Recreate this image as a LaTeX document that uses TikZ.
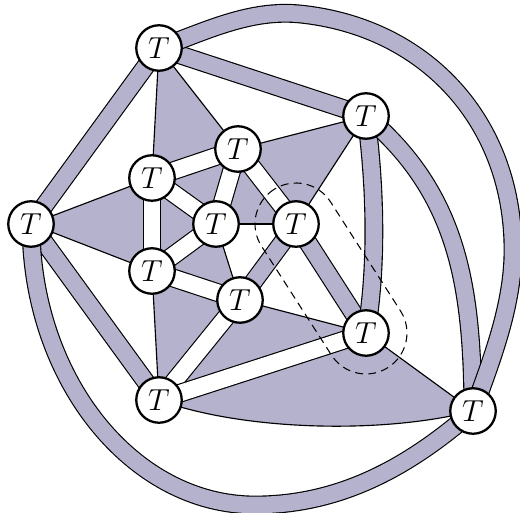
\documentclass[tikz,border=0pt]{standalone}
\usetikzlibrary{calc}
\pgfdeclarelayer{bg}
\pgfsetlayers{bg,main}
\definecolor{pfill}{RGB}{180,178,204}
\begin{document}
\begin{tikzpicture}[x=0.02cm,y=-0.02cm,
  tnode/.style={circle,draw,line width=1.3pt,fill=white,minimum size=0.91cm,inner sep=0pt,font=\fontsize{18.5}{21}\selectfont},
  pstrip/.style={draw=black,line width=0.65pt,double=pfill,double distance=9.4pt},
  wstrip/.style={draw=black,line width=0.65pt,double=white,double distance=9.4pt},
  face/.style={fill=pfill},
  edgeline/.style={draw=black,line width=0.65pt},
  loopline/.style={draw=black,line width=0.6pt,dash pattern=on 4.5pt off 3pt}]
\useasboundingbox (0,0) rectangle (520,513);
\node[tnode] (A) at (159,48) {$T$};
\node[tnode] (B) at (366,116) {$T$};
\node[tnode] (C) at (238,149) {$T$};
\node[tnode] (D) at (152,178) {$T$};
\node[tnode] (E) at (31,224) {$T$};
\node[tnode] (F) at (216,224) {$T$};
\node[tnode] (G) at (296,224) {$T$};
\node[tnode] (H) at (152,271) {$T$};
\node[tnode] (I) at (240,300) {$T$};
\node[tnode] (J) at (366,333) {$T$};
\node[tnode] (K) at (159,400) {$T$};
\node[tnode] (L) at (473,411) {$T$};
\begin{pgfonlayer}{bg}
% purple faces
\fill[face] (A.center) -- (D.center) -- (C.center) -- cycle;
\fill[face] (C.center) -- (B.center) -- (G.center) -- cycle;
\fill[face] (C.center) -- (D.center) -- (F.center) -- cycle;
\fill[face] (D.center) -- (E.center) -- (H.center) -- cycle;
\fill[face] (D.center) -- (F.center) -- (H.center) -- cycle;
\fill[face] (F.center) -- (C.center) -- (G.center) -- cycle;
\fill[face] (F.center) -- (H.center) -- (I.center) -- cycle;
\fill[face] (H.center) -- (I.center) -- (K.center) -- cycle;
\fill[face] (I.center) -- (J.center) -- (K.center) -- cycle;
\fill[face] (K.center) .. controls (240,430) and (380,435) .. (L.center) -- (J.center) -- cycle;
% white strips
\draw[wstrip] (D.center) -- (C.center);
\draw[wstrip] (D.center) -- (H.center);
\draw[wstrip] (D.center) -- (F.center);
\draw[wstrip] (C.center) -- (F.center);
\draw[wstrip] (F.center) -- (H.center);
\draw[wstrip] (C.center) -- (G.center);
\draw[wstrip] (H.center) -- (I.center);
\draw[wstrip] (I.center) -- (K.center);
\draw[wstrip] (J.center) -- (K.center);
% purple strips
\draw[pstrip] (A.center) -- (E.center);
\draw[pstrip] (A.center) -- (B.center);
\draw[pstrip] (E.center) -- (K.center);
\draw[pstrip] (G.center) -- (J.center);
\draw[pstrip] (G.center) -- (I.center);
\draw[pstrip] (B.center) .. controls (376,190) and (377,270) .. (J.center);
\draw[pstrip] (B.center) .. controls (460,195) and (472,290) .. (L.center);
\draw[pstrip] (A.center) .. controls (206,31) and (250,9) .. (300,14)
   .. controls (427,27) and (513,123) .. (513,250)
   .. controls (513,305) and (492,359) .. (L.center);
\draw[pstrip] (E.center) .. controls (31,379) and (132,505) .. (255,505)
   .. controls (340,505) and (409,467) .. (L.center);
% single lines
\draw[edgeline] (A.center) -- (D.center);
\draw[edgeline] (A.center) -- (C.center);
\draw[edgeline] (C.center) -- (B.center);
\draw[edgeline] (G.center) -- (B.center);
\draw[edgeline] (D.center) -- (E.center);
\draw[edgeline] (E.center) -- (H.center);
\draw[edgeline] (H.center) -- (K.center);
\draw[edgeline] (F.center) -- (G.center);
\draw[edgeline] (F.center) -- (I.center);
\draw[edgeline] (I.center) -- (J.center);
\draw[edgeline] (J.center) -- (L.center);
\draw[edgeline] (K.center) .. controls (240,430) and (380,435) .. (L.center);
\end{pgfonlayer}
\begin{scope}[shift={(G.center)},rotate=-57.3]
\draw[loopline,rounded corners=0.82cm] (-41,-41) rectangle (170.5,41);
\end{scope}
\end{tikzpicture}
\end{document}
